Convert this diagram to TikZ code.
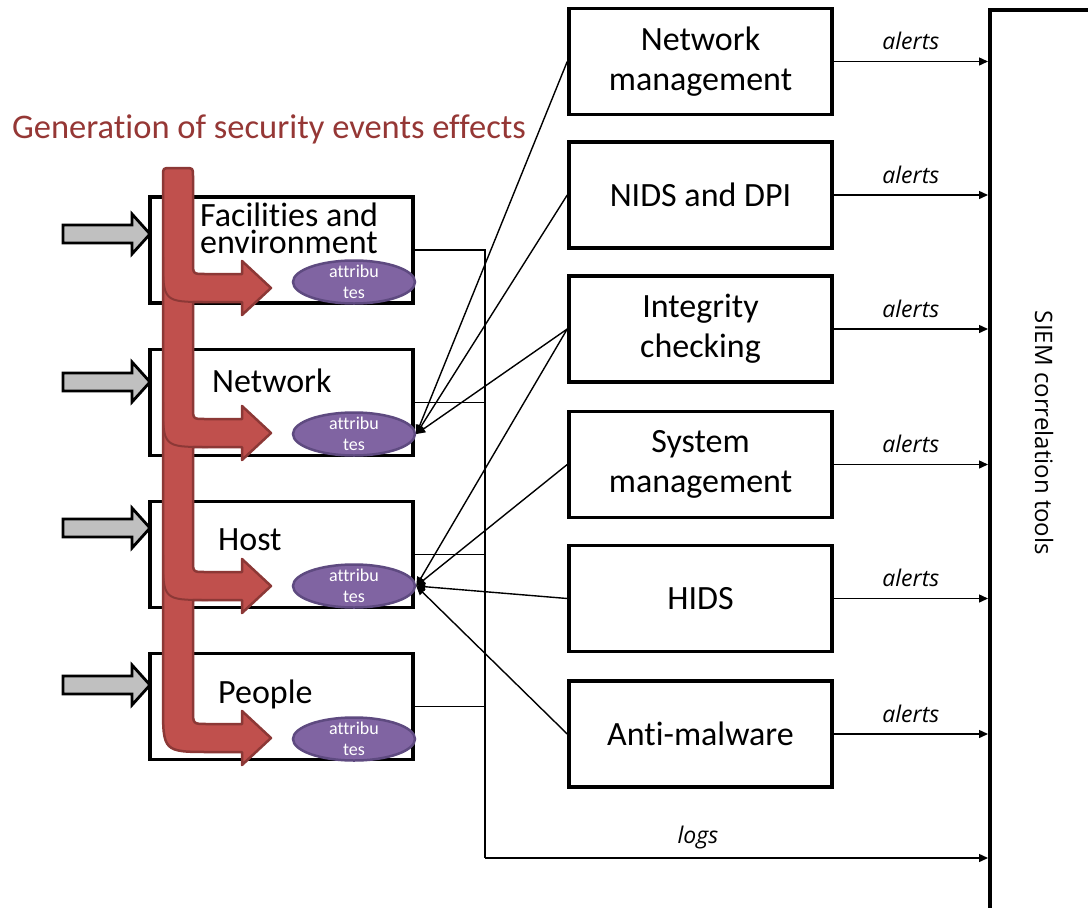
\documentclass[tikz,border=0pt]{standalone}
\usepackage{fontspec}
\setmainfont{Carlito}[Ligatures=NoCommon]
\newfontfamily\notefont{Open Sans}
\usetikzlibrary{arrows.meta,shapes.geometric}

\definecolor{effectred}{HTML}{C0504D}
\definecolor{effectedge}{HTML}{8C3836}
\definecolor{titlered}{HTML}{953735}
\definecolor{attrfill}{HTML}{8064A2}
\definecolor{attredge}{HTML}{5E4A80}
\definecolor{inputgray}{HTML}{C0C0C0}

\begin{document}
\begin{tikzpicture}[x=1pt,y=-1pt,
  box/.style={draw, line width=3.5pt, fill=white, minimum width=263pt,
    minimum height=106pt, inner sep=0pt, align=center,
    font=\fontsize{34}{40}\selectfont},
  boxtext/.style={inner sep=0pt, align=left, font=\fontsize{34}{27}\selectfont},
  attr/.style={ellipse, draw=attredge, line width=2.5pt, fill=attrfill,
    minimum width=122pt, minimum height=43pt, inner sep=0pt},
  attrtext/.style={inner sep=0pt, align=center, text=white,
    font=\fontsize{18}{21}\selectfont},
  wire/.style={line width=1.4pt},
  conn/.style={wire, -{Triangle[length=9pt,width=8pt]}},
  note/.style={inner sep=0pt, font=\notefont\itshape\fontsize{23}{28}\selectfont},
  effect/.style={fill=effectred, draw=effectedge, line width=2.5pt, line join=round},
  overlap/.style={draw=effectedge, line width=2pt},
  feed/.style={fill=inputgray, draw=black, line width=2.8pt, line join=miter}
]
\useasboundingbox (0,0) rectangle (1088,908);

% ---------- title ----------
\node[text=titlered, inner sep=0pt, font=\fontsize{34.5}{40}\selectfont] (title)
  at (269,129) {Generation of security events effects};

% ---------- SIEM column ----------
\node[draw, line width=3.5pt, minimum width=300pt, minimum height=1000pt,
  anchor=north west] (siem) at (988,8) {};
\node[rotate=-90, inner sep=0pt, font=\notefont\fontsize{24}{28}\selectfont]
  (siemlbl) at (1044,433) {SIEM correlation tools};

% ---------- monitoring tools ----------
\node[box] (nm)    at (700.5,61.5)  {Network\\management};
\node[box] (nids)  at (700.5,195)   {NIDS and DPI};
\node[box] (integ) at (700.5,329)   {Integrity\\checking};
\node[box] (sysm)  at (700.5,464.5) {System\\management};
\node[box] (hids)  at (700.5,598.5) {HIDS};
\node[box] (am)    at (700.5,734)   {Anti-malware};

% ---------- monitored domains ----------
\node[box] (fac)  at (281.5,250)   {};
\node[box] (net)  at (281.5,402.5) {};
\node[box] (host) at (281.5,554.5) {};
\node[box] (ppl)  at (281.5,706.5) {};

\node[boxtext, anchor=west] (facl)  at (200,228) {Facilities and\\environment};
\node[boxtext, anchor=west] (netl)  at (212,381) {Network};
\node[boxtext, anchor=west] (hostl) at (218,540) {Host};
\node[boxtext, anchor=west] (ppll)  at (218,694) {People};

% ---------- external inputs ----------
\foreach \c in {234,382,528,685}{
  \draw[feed] (63,\c-9) -- (132,\c-9) -- (132,\c-20) -- (150,\c)
    -- (132,\c+20) -- (132,\c+9) -- (63,\c+9) -- cycle;
}

% ---------- log bus ----------
\coordinate (logsCorner) at (485,858);
\draw[wire] (fac.east) -| (logsCorner);
\draw[wire] (net.east) -- (net.east -| logsCorner);
\draw[wire] (host.east) -- (host.east -| logsCorner);
\draw[wire] (ppl.east) -- (ppl.east -| logsCorner);
\draw[conn] (logsCorner) -- (logsCorner -| siem.west);
\node[note, anchor=base] (logslbl) at (698,843) {logs};

% ---------- alerts ----------
\foreach \t/\n in {nm/a1,nids/a2,integ/a3,sysm/a4,hids/a5,am/a6}{
  \draw[conn] (\t.east) -- (\t.east -| siem.west)
    node[note, midway, above=11pt] (\n) {alerts};
}

% ---------- security event effects ----------
\draw[effect]
  (163,176) .. controls (163,168) .. (171,168) -- (185,168)
  .. controls (193,168) .. (193,176)
  -- (193,262) .. controls (193,274) .. (205,274) -- (242,274) -- (242,261)
  -- (271,288) -- (242,315) -- (242,302) -- (193,302)
  -- (193,407) .. controls (193,419) .. (205,419) -- (242,419) -- (242,406)
  -- (271,433) -- (242,460) -- (242,447) -- (193,447)
  -- (193,560) .. controls (193,572) .. (205,572) -- (242,572) -- (242,559)
  -- (271,586) -- (242,613) -- (242,600) -- (193,600)
  -- (193,710) .. controls (193,724) .. (207,724) -- (242,724) -- (242,711)
  -- (271,738) -- (242,765) -- (242,752) -- (211,752)
  .. controls (163,752) .. (163,704) -- cycle;
\foreach \a in {288,433,586}{
  \draw[overlap] (163,\a-31) .. controls (163,\a+14) .. (208,\a+14);
}

% ---------- attributes ----------
\node[attr] (fa) at (354,282) {};
\node[attr] (na) at (354,434) {};
\node[attr] (ha) at (354,586) {};
\node[attr] (pa) at (354,739) {};
\node[attrtext] (fat) at (fa.center) {attribu\\tes};
\node[attrtext] (nat) at (na.center) {attribu\\tes};
\node[attrtext] (hat) at (ha.center) {attribu\\tes};
\node[attrtext] (pat) at (pa.center) {attribu\\tes};

% ---------- tools observing the attributes ----------
\draw[conn] (nm.west) -- (na.east);
\draw[conn] (nids.west) -- (na.east);
\draw[conn] (integ.west) -- (na.east);
\draw[conn] (integ.west) -- (ha.east);
\draw[conn] (sysm.west) -- (ha.east);
\draw[conn] (hids.west) -- (ha.east);
\draw[conn] (am.west) -- (ha.east);
\end{tikzpicture}
\end{document}
